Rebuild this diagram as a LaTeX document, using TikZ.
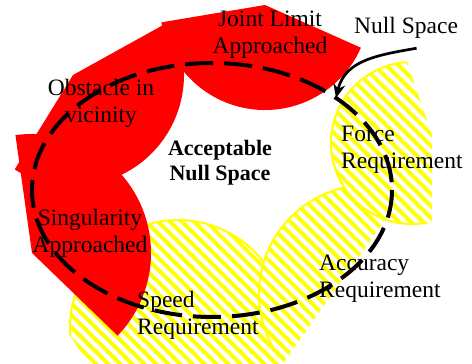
\documentclass[tikz,border=0pt]{standalone}
\usepackage{fontspec}
\setmainfont{Liberation Serif}
\usepackage{tikz}
\usetikzlibrary{arrows.meta,patterns.meta}
\definecolor{blockred}{HTML}{FF0000}
\definecolor{demandyellow}{HTML}{FFFF00}
\definecolor{pathink}{HTML}{000000}

\begin{document}
\begin{tikzpicture}[
  x=1pt, y=-1pt,
  blocked/.style={fill=blockred},
  demand/.style={preaction={fill=white},
    pattern={Lines[angle=-45,distance=8.5pt,line width=4pt]},
    pattern color=demandyellow},
  demandrim/.style={draw=demandyellow, line width=2pt},
  nullpath/.style={draw=pathink, line width=4pt, dash pattern=on 28pt off 11pt},
  nsarrow/.style={-{Stealth[length=14pt,width=12pt]}, line width=2.7pt, draw=pathink},
  petaltext/.style={font=\fontsize{23.5}{27}\selectfont, inner sep=0pt, align=center},
  accepttext/.style={font=\fontsize{22}{25}\selectfont\bfseries, inner sep=0pt, align=center}
]
  \useasboundingbox (0,0) rectangle (472,364);
  \clip (0,0) rectangle (472,364);

  \coordinate (speedc) at (178,328);
  \coordinate (accc) at (368,294);
  \coordinate (forcec) at (412,143);
  \coordinate (jointc) at (265,5);
  \coordinate (obstc) at (73,75);
  \coordinate (singc) at (32,253);

  % requirements (yellow)
  \path[demand] (speedc) ++(176:108) arc[start angle=176, end angle=400, radius=108]
    -- (101,384) -- cycle;
  \draw[demandrim] (speedc) ++(176:108) arc[start angle=176, end angle=330, radius=108];
  \path[demand] (accc) ++(-70:109) arc[start angle=-70, end angle=-219, radius=109] -- cycle;
  \draw[demandrim] (accc) ++(-100:109) arc[start angle=-100, end angle=-215, radius=109];
  \path[demand] (forcec) ++(75.7:81) arc[start angle=75.7, end angle=266.5, radius=81]
    -- (432,135) -- cycle;
  \draw[demandrim] (forcec) ++(79:81) arc[start angle=79, end angle=266.5, radius=81];

  % limits (red)
  \fill[blocked] (jointc) -- ++(24:105) arc[start angle=24, end angle=170.5, radius=105] -- cycle;
  \fill[blocked] (obstc) -- ++(-29:111) arc[start angle=-29, end angle=121.7, radius=111] -- cycle;
  \fill[blocked] (singc) -- ++(-98:119) arc[start angle=-98, end angle=44, radius=119] -- cycle;

  \draw[nullpath] (212,190) ellipse [x radius=180, y radius=127];

  % base anchor sits on the last line
  \node[petaltext, anchor=base] (joint) at (270,53) {Joint Limit\\Approached};
  \node[petaltext, anchor=base] (obstacle) at (101,122) {Obstacle in\\vicinity};
  \node[petaltext, anchor=base] (singular) at (90,252) {Singularity\\Approached};
  \node[petaltext, anchor=base west, align=left] (force) at (341,168) {Force\\Requirement};
  \node[petaltext, anchor=base west, align=left] (accuracy) at (319,297) {Accuracy\\Requirement};
  \node[petaltext, anchor=base west, align=left] (speed) at (137,334) {Speed\\Requirement};
  \node[accepttext, anchor=base] (accept) at (220,180) {Acceptable\\Null Space};
  \node[petaltext, anchor=base west] (nslabel) at (354,33) {Null Space};

  \coordinate (nstip) at (336,98);
  \draw[nsarrow] ([xshift=10.5pt,yshift=-10pt]nslabel.south)
    .. controls (378,55) and (345,60) .. (nstip);
\end{tikzpicture}
\end{document}
